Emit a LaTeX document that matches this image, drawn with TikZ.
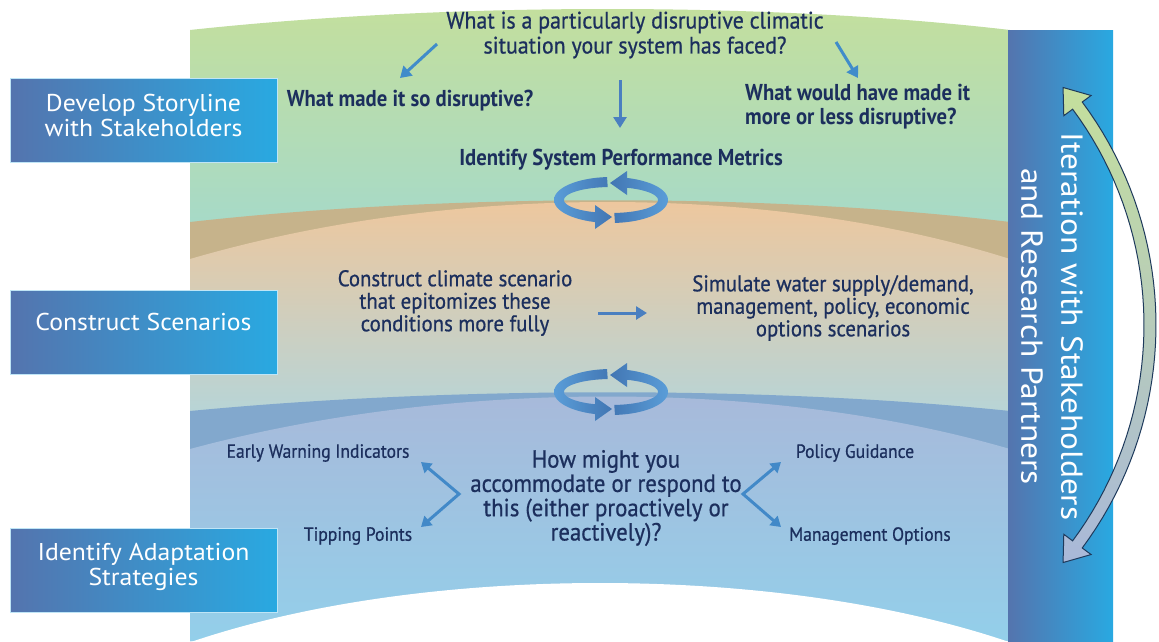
\documentclass[tikz,border=0pt]{standalone}
\usepackage{fontspec}
\setmainfont{PT Sans}
\newfontfamily\bandfont[FakeStretch=0.92, RawFeature={embolden=0.7}]{PT Sans}
\newfontfamily\semifont[FakeStretch=0.9]{PT Sans}
\newfontfamily\boxfont[FakeStretch=1.06]{PT Sans}
\newfontfamily\barfont[FakeStretch=1.1]{PT Sans}
\usetikzlibrary{arrows.meta,positioning,calc}
\definecolor{dgNavy}{HTML}{1C2F5D}
\definecolor{dgSteel}{HTML}{5474AE}
\definecolor{dgCyan}{HTML}{29A9E1}
\definecolor{dgArrow}{HTML}{4A7FC0}
\definecolor{dgGreen}{HTML}{C4DF9C}
\definecolor{dgTeal}{HTML}{A3D9CD}
\definecolor{dgTan}{HTML}{C6B38B}
\definecolor{dgOrange}{HTML}{F2C699}
\definecolor{dgMist}{HTML}{B4D5DA}
\definecolor{dgRim}{HTML}{82A8CD}
\definecolor{dgLav}{HTML}{A9B8D9}
\definecolor{dgSky}{HTML}{93CFEA}
\definecolor{dgRingA}{HTML}{5A9DD8}
\definecolor{dgRingB}{HTML}{4276B3}
\definecolor{dgOutline}{HTML}{1E3A5C}
\tikzset{
  stageBox/.style={
    left color=dgSteel,
    right color=dgCyan,
    draw=white!70!dgCyan,
    line width=0.8pt,
    minimum width=267pt,
    minimum height=84pt
  },
  boxLabel/.style={
    align=center,
    text=white,
    inner sep=0pt,
    font=\boxfont\fontsize{24.3}{25}\selectfont
  },
  bandText/.style={
    align=center,
    text=dgNavy,
    inner sep=0pt,
    font=\bandfont\fontsize{22.6}{22.5}\selectfont
  },
  bandBold/.style={
    bandText,
    font=\semifont\bfseries\fontsize{23}{24}\selectfont
  },
  smallText/.style={
    bandText,
    font=\bandfont\fontsize{19.1}{20}\selectfont
  },
  iterText/.style={
    align=center,
    text=white,
    rotate=-90,
    inner sep=0pt,
    font=\barfont\fontsize{30.4}{40}\selectfont
  },
  flowArrow/.style={
    -{Triangle[length=11pt,width=13pt]},
    line width=3pt,
    draw=dgArrow
  },
  branchArrow/.style={
    {Triangle[length=10pt,width=12pt]}-{Triangle[length=10pt,width=12pt]},
    line width=3pt,
    draw=dgArrow!75!dgCyan
  },
  iterArrow/.style={
    top color=dgGreen,
    bottom color=dgLav,
    draw=dgOutline,
    line width=1pt
  }
}

\begin{document}
\begin{tikzpicture}[x=1pt, y=-1pt]
  \useasboundingbox (0,0) rectangle (1159,641);
  \fill[white] (0,0) rectangle (1159,641);

  % arched band, top to bottom
  \shade[top color=dgGreen, bottom color=dgTeal]
    (190,30) .. controls (450,2) and (770,2) .. (1010,30) -- (1010,250) -- (190,250) -- cycle;
  \fill[dgTan]
    (190,222) .. controls (450,193) and (770,193) .. (1010,222) -- (1010,300) -- (190,300) -- cycle;
  \shade[top color=dgOrange, bottom color=dgMist]
    (190,259) .. controls (450,183) and (770,183) .. (1010,259) -- (1010,425) -- (190,425) -- cycle;
  \fill[dgRim]
    (190,411) .. controls (450,386) and (770,386) .. (1010,411) -- (1010,641) -- (190,641) -- cycle;
  \shade[top color=dgLav, bottom color=dgSky]
    (190,449) .. controls (450,379) and (770,379) .. (1010,449) -- (1010,641) -- (190,641) -- cycle;
  \fill[white]
    (188,643) .. controls (420,563) and (780,563) .. (1012,643) -- cycle;

  % side bar and its arrow
  \shade[left color=dgSteel, right color=dgCyan] (1008,30) rectangle (1113,641);
  \path[iterArrow]
    plot[domain=-36.6:36.6, samples=40] ({782+374*cos(\x)},{325+374*sin(\x)})
    -- ({782+385*cos(36.6)},{325+385*sin(36.6)})
    -- ({782+368*cos(40.2)},{325+368*sin(40.2)})
    -- ({782+351*cos(36.6)},{325+351*sin(36.6)})
    -- plot[domain=36.6:-36.6, samples=40] ({782+362*cos(\x)},{325+362*sin(\x)})
    -- ({782+351*cos(-36.6)},{325+351*sin(-36.6)})
    -- ({782+368*cos(-40.2)},{325+368*sin(-40.2)})
    -- ({782+385*cos(-36.6)},{325+385*sin(-36.6)})
    -- cycle;
  \node[iterText] (iteration) at (1052,326.5) {Iteration with Stakeholders\\and Research Partners};

  % stage boxes
  \node[stageBox] (storyline) at (143.5,120) {};
  \node[stageBox] (scenarios) at (143.5,332) {};
  \node[stageBox] (adaptation) at (143.5,570) {};
  \node[boxLabel] (storylineLbl) at (143.5,115) {Develop Storyline\\with Stakeholders};
  \node[boxLabel] (scenariosLbl) at (143.5,322) {Construct Scenarios};
  \node[boxLabel] (adaptationLbl) at (143.5,567) {Identify Adaptation\\Strategies};

  % storyline texts
  \node[bandText, font=\bandfont\fontsize{23.8}{25}\selectfont] (qTop) at (635,35) {What is a particularly disruptive climatic\\situation your system has faced?};
  \node[bandBold] (qLeft) at (410,101) {What made it so disruptive?};
  \node[bandBold, align=left, anchor=west] (qRight) at (745,107) {What would have made it\\more or less disruptive?};
  \node[bandBold] (metrics) at (621,160) {Identify System Performance Metrics};

  \coordinate (qTopL) at (437,44);
  \coordinate (qTopR) at (836,42);
  \coordinate (qTopD) at (620,80);
  \coordinate (qLeftIn) at (400,78);
  \coordinate (qRightIn) at (858,78);
  \coordinate (metricsIn) at (620,128);
  \draw[flowArrow, draw=dgArrow!70!dgCyan] (qTopL) -- (qLeftIn);
  \draw[flowArrow, draw=dgArrow!70!dgCyan] (qTopR) -- (qRightIn);
  \draw[flowArrow] (qTopD) -- (metricsIn);

  % scenario texts
  \node[bandText] (climScen) at (455,303) {Construct climate scenario\\that epitomizes these\\conditions more fully};
  \node[bandText] (simScen) at (833,308) {Simulate water supply/demand,\\management, policy, economic\\options scenarios};
  \coordinate (climOut) at (598,313);
  \coordinate (simIn) at (647,313);
  \draw[flowArrow] (climOut) -- (simIn);

  % adaptation texts
  \node[bandText, font=\bandfont\fontsize{24.8}{24.3}\selectfont] (howQ) at (606,498) {How might you\\accommodate or respond to\\this (either proactively or\\reactively)?};
  \node[smallText] (ewi) at (318,453) {Early Warning Indicators};
  \node[smallText] (tipping) at (358,536) {Tipping Points};
  \node[smallText] (policy) at (855,453) {Policy Guidance};
  \node[smallText] (mgmt) at (870,536) {Management Options};

  \coordinate (ewiIn) at (421,462);
  \coordinate (tipIn) at (421,527);
  \coordinate (howL) at (459,494);
  \coordinate (policyIn) at (781,462);
  \coordinate (mgmtIn) at (781,527);
  \coordinate (howR) at (743,494);
  \draw[branchArrow] (ewiIn) -- (howL) -- (tipIn);
  \draw[branchArrow] (policyIn) -- (howR) -- (mgmtIn);

  % cycle arrows between stages
  \foreach \cy in {200,392} {
    \begin{scope}[shift={(611,\cy)}]
      \shade[left color=dgRingA, right color=dgRingB]
        plot[domain=-94:-253.7, samples=30] ({57*cos(\x)},{23*sin(\x)})
        -- (-16,29) -- (1,17) -- (-16,5)
        -- plot[domain=-250.1:-94, samples=30] ({47*cos(\x)},{13*sin(\x)})
        -- cycle;
      \shade[left color=dgRingB, right color=dgRingA]
        plot[domain=86:-73.7, samples=30] ({57*cos(\x)},{23*sin(\x)})
        -- (16,-29) -- (-1,-17) -- (16,-5)
        -- plot[domain=-70.1:86, samples=30] ({47*cos(\x)},{13*sin(\x)})
        -- cycle;
    \end{scope}
  }
\end{tikzpicture}
\end{document}
